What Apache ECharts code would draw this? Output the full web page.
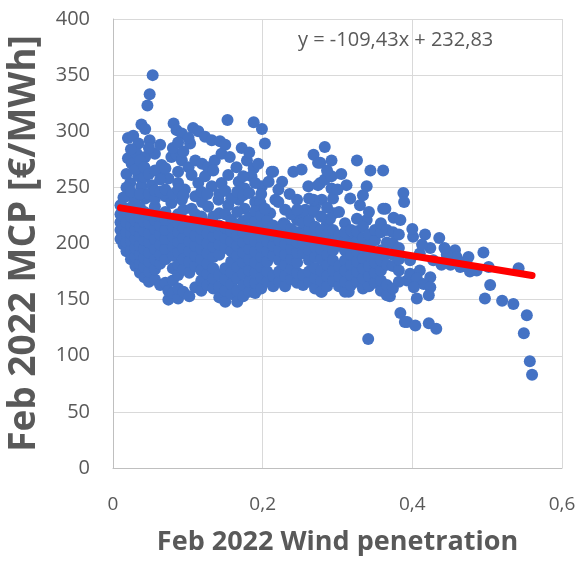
<!DOCTYPE html>
<html><head><meta charset="utf-8">
<script src="https://cdn.jsdelivr.net/npm/echarts@6/dist/echarts.min.js"></script>
<style>html,body{margin:0;padding:0;background:#fff}#c{width:579px;height:562px}</style>
</head><body><div id="c"></div>
<script>
// Axis ticks
const xTicks = [0, 0.2, 0.4, 0.6];
const yTicks = [0, 50, 100, 150, 200, 250, 300, 350, 400];
// Trendline (from the displayed equation)
const trendSlope = -109.43;
const trendIntercept = 232.83;
const equationText = 'y = -109,43x + 232,83';

// Points [wind penetration, MCP €/MWh], grouped by wind band
const windBelow010 = [
  [0.053,350],[0.049,333],[0.046,323],[0.038,306],[0.043,302],[0.020,294],[0.027,296],[0.034,289],[0.049,292],[0.081,307],[0.085,301],[0.092,298],
  [0.020,276],[0.025,271],[0.032,280],[0.043,277],[0.056,280],[0.065,270],[0.078,277],[0.085,279],[0.092,274],
  [0.023,254],[0.034,260],[0.038,251],[0.052,252],[0.067,263],[0.074,258],[0.087,254],[0.096,248],
  [0.018,242],[0.029,239],[0.043,240],[0.056,233],[0.070,242],[0.078,236],[0.092,239],
  [0.010,204],[0.010,212],[0.010,219],[0.010,226],[0.010,234],
  [0.014,199],[0.014,207],[0.014,216],[0.014,224],[0.014,232],[0.014,241],
  [0.018,193],[0.018,201],[0.018,210],[0.018,219],[0.018,228],[0.018,250],[0.018,262],
  [0.024,186],[0.024,194],[0.024,202],[0.024,209],[0.024,216],[0.024,224],[0.024,232],[0.024,246],[0.024,284],
  [0.030,180],[0.030,188],[0.030,196],[0.030,204],[0.030,212],[0.030,220],[0.030,229],[0.030,266],
  [0.036,174],[0.036,182],[0.036,190],[0.036,198],[0.036,207],[0.036,215],[0.036,223],[0.036,232],[0.036,244],[0.036,274],
  [0.042,170],[0.042,179],[0.042,187],[0.042,195],[0.042,203],[0.042,211],[0.042,219],[0.042,228],[0.042,259],[0.042,268],
  [0.048,166],[0.048,175],[0.048,184],[0.048,192],[0.048,201],[0.048,209],[0.048,218],[0.048,226],[0.048,244],[0.048,262],[0.048,285],
  [0.056,168],[0.056,177],[0.056,186],[0.056,195],[0.056,204],[0.056,213],[0.056,221],[0.056,240],[0.056,247],[0.056,265],
  [0.063,163],[0.063,182],[0.063,190],[0.063,199],[0.063,208],[0.063,216],[0.063,225],[0.063,246],[0.063,257],[0.063,288],
  [0.070,165],[0.070,186],[0.070,195],[0.070,204],[0.070,212],[0.070,221],[0.070,228],[0.070,248],[0.070,267],
  [0.074,150],[0.074,158],
  [0.080,156],[0.080,167],[0.080,178],[0.080,189],[0.080,197],[0.080,206],[0.080,214],[0.080,222],[0.080,244],[0.080,285],
  [0.087,151],[0.087,160],[0.087,172],[0.087,181],[0.087,192],[0.087,201],[0.087,210],[0.087,218],[0.087,226],[0.087,248],[0.087,264],[0.087,290],
  [0.094,157],[0.094,177],[0.094,186],[0.094,196],[0.094,205],[0.094,214],[0.094,230],[0.094,243],[0.094,282]
];
const wind010to020 = [
  [0.107,303],[0.114,300],[0.123,295],[0.132,292],[0.143,291],[0.150,288],[0.153,310],[0.188,308],[0.199,302],[0.172,285],[0.103,289],[0.101,294],
  [0.101,268],[0.110,274],[0.119,271],[0.127,268],[0.136,274],[0.145,280],[0.156,277],[0.165,268],[0.179,274],[0.188,267],[0.194,271],
  [0.105,261],[0.114,254],[0.123,260],[0.132,251],[0.145,254],[0.154,261],[0.168,255],[0.176,249],[0.185,260],[0.199,251],
  [0.105,231],[0.119,237],[0.127,233],[0.141,239],[0.154,234],[0.168,239],[0.176,231],[0.190,237],[0.197,236],
  [0.102,153],[0.102,174],[0.102,184],[0.102,193],[0.102,202],[0.102,211],[0.102,219],
  [0.110,161],[0.110,180],[0.110,189],[0.110,198],[0.110,207],[0.110,216],[0.110,226],[0.110,242],
  [0.118,158],[0.118,167],[0.118,176],[0.118,186],[0.118,195],[0.118,204],[0.118,213],[0.118,224],[0.118,246],
  [0.126,163],[0.126,173],[0.126,182],[0.126,191],[0.126,200],[0.126,209],[0.126,218],[0.126,244],
  [0.134,160],[0.134,169],[0.134,178],[0.134,188],[0.134,197],[0.134,206],[0.134,215],[0.134,224],[0.134,265],
  [0.142,152],[0.142,162],[0.142,172],[0.142,190],[0.142,199],[0.142,208],[0.142,216],[0.142,227],[0.142,244],
  [0.150,148],[0.150,158],[0.150,168],[0.150,178],[0.150,196],[0.150,205],[0.150,214],[0.150,226],[0.150,247],
  [0.158,155],[0.158,164],[0.158,174],[0.158,184],[0.158,193],[0.158,202],[0.158,211],[0.158,221],[0.158,240],
  [0.166,148],[0.166,158],[0.166,169],[0.166,179],[0.166,189],[0.166,198],[0.166,207],[0.166,217],[0.166,228],[0.166,246],
  [0.174,153],[0.174,163],[0.174,173],[0.174,183],[0.174,192],[0.174,201],[0.174,210],[0.174,220],[0.174,243],[0.174,260],
  [0.182,157],[0.182,166],[0.182,176],[0.182,186],[0.182,195],[0.182,204],[0.182,213],[0.182,223],[0.182,245],[0.182,281],
  [0.190,156],[0.190,165],[0.190,174],[0.190,183],[0.190,193],[0.190,202],[0.190,211],[0.190,220],[0.190,229],[0.190,254],
  [0.198,160],[0.198,170],[0.198,179],[0.198,188],[0.198,197],[0.198,206],[0.198,215],[0.198,225],[0.198,244]
];
const wind020to030 = [
  [0.203,289],[0.212,264],[0.241,264],[0.252,266],[0.268,279],[0.274,272],[0.283,286],[0.292,274],[0.277,272],[0.214,264],
  [0.226,255],[0.277,254],[0.292,249],[0.208,255],[0.221,248],[0.246,239],[0.261,251],[0.274,252],[0.283,257],[0.292,260],
  [0.217,239],[0.230,230],[0.257,230],[0.270,233],[0.279,239],[0.268,239],[0.221,237],[0.210,227],[0.268,228],[0.295,227],
  [0.246,221],[0.228,218],[0.286,218],[0.238,226],[0.262,240],[0.254,226],[0.203,231],[0.290,222],[0.236,244],[0.279,157],
  [0.206,166],[0.206,175],[0.206,184],[0.206,193],[0.206,202],[0.206,211],[0.206,220],
  [0.214,162],[0.214,171],[0.214,189],[0.214,198],[0.214,207],[0.214,216],
  [0.222,166],[0.222,175],[0.222,185],[0.222,194],[0.222,203],[0.222,212],
  [0.230,162],[0.230,171],[0.230,181],[0.230,190],[0.230,199],[0.230,208],[0.230,217],
  [0.238,168],[0.238,177],[0.238,186],[0.238,195],[0.238,204],[0.238,213],
  [0.246,165],[0.246,174],[0.246,183],[0.246,192],[0.246,201],[0.246,210],[0.246,230],
  [0.254,163],[0.254,172],[0.254,191],[0.254,200],[0.254,209],[0.254,218],
  [0.262,166],[0.262,175],[0.262,185],[0.262,194],[0.262,203],[0.262,212],[0.262,220],
  [0.270,160],[0.270,169],[0.270,178],[0.270,188],[0.270,197],[0.270,206],[0.270,215],
  [0.278,157],[0.278,167],[0.278,176],[0.278,186],[0.278,195],[0.278,204],[0.278,212],[0.278,224],
  [0.286,162],[0.286,171],[0.286,181],[0.286,190],[0.286,199],[0.286,208],[0.286,232],[0.286,265],
  [0.294,167],[0.294,176],[0.294,185],[0.294,194],[0.294,203],[0.294,212],[0.294,240]
];
const wind030to040 = [
  [0.326,274],[0.344,265],[0.361,265],[0.339,251],[0.312,252],[0.388,245],[0.389,237],[0.364,231],[0.375,223],[0.317,240],
  [0.330,234],[0.361,231],[0.310,218],[0.339,221],[0.321,203],[0.305,262],[0.300,248],[0.384,221],
  [0.341,115],[0.370,153],[0.384,138],[0.390,130],[0.315,157],[0.397,185],[0.393,167],[0.397,173],[0.393,130],
  [0.302,162],[0.302,171],[0.302,180],[0.302,198],[0.302,207],[0.302,228],
  [0.310,157],[0.310,166],[0.310,176],[0.310,185],[0.310,194],[0.310,203],[0.310,210],
  [0.318,163],[0.318,172],[0.318,181],[0.318,190],[0.318,199],[0.318,212],
  [0.326,166],[0.326,175],[0.326,184],[0.326,193],[0.326,202],[0.326,211],[0.326,222],
  [0.334,160],[0.334,169],[0.334,178],[0.334,187],[0.334,196],[0.334,205],[0.334,215],[0.334,243],
  [0.342,162],[0.342,171],[0.342,180],[0.342,189],[0.342,198],[0.342,208],[0.342,228],
  [0.350,165],[0.350,174],[0.350,183],[0.350,192],[0.350,203],[0.350,212],
  [0.358,158],[0.358,167],[0.358,176],[0.358,185],[0.358,194],[0.358,210],[0.358,218],
  [0.366,154],[0.366,163],[0.366,181],[0.366,191],[0.366,201],[0.366,212],
  [0.374,160],[0.374,180],[0.374,190],[0.374,200],[0.374,210],
  [0.382,166],[0.382,176],[0.382,186],[0.382,196],[0.382,208]
];
const windAbove040 = [
  [0.401,206],[0.417,208],[0.436,205],[0.424,196],[0.410,191],[0.428,185],[0.439,181],[0.410,176],[0.424,170],[0.406,169],
  [0.415,164],[0.402,161],[0.424,161],[0.406,151],[0.422,154],[0.404,127],[0.422,129],[0.432,124],
  [0.457,194],[0.459,188],[0.475,188],[0.495,192],[0.451,181],[0.464,179],[0.477,175],[0.486,176],[0.502,179],[0.504,163],
  [0.497,151],[0.520,149],[0.535,146],[0.542,178],[0.553,136],[0.549,120],[0.557,95],[0.560,83],
  [0.446,190],[0.468,183],[0.413,199],[0.400,213],[0.443,196]
];

const points = [].concat(windBelow010, wind010to020, wind020to030, wind030to040, windAbove040);
const xs = points.map(p => p[0]);
const xMin = Math.min.apply(null, xs), xMax = Math.max.apply(null, xs);
const trend = [[xMin, trendIntercept + trendSlope * xMin], [xMax, trendIntercept + trendSlope * xMax]];

const grey = '#595959';
const font = 'Open Sans';
const fmtX = v => (v === 0 ? '0' : v.toFixed(1).replace('.', ','));

const chart = echarts.init(document.getElementById('c'), null, {renderer: 'canvas'});
chart.setOption({
  animation: false,
  backgroundColor: '#ffffff',
  grid: {left: 113, right: 17, top: 19, bottom: 94, containLabel: false, outerBoundsMode: 'none'},
  xAxis: {
    type: 'value', min: xTicks[0], max: xTicks[xTicks.length - 1], interval: xTicks[1] - xTicks[0],
    axisLine: {show: true, lineStyle: {color: '#BFBFBF', width: 1}},
    axisTick: {show: false},
    splitLine: {show: true, lineStyle: {color: '#D9D9D9', width: 1}},
    axisLabel: {formatter: fmtX, color: grey, fontFamily: font, fontSize: 19, margin: 27},
    name: 'Feb 2022 Wind penetration', nameLocation: 'middle', nameGap: 61,
    nameTextStyle: {color: grey, fontFamily: font, fontWeight: 'bold', fontSize: 27}
  },
  yAxis: {
    type: 'value', min: yTicks[0], max: yTicks[yTicks.length - 1], interval: yTicks[1] - yTicks[0],
    axisLine: {show: true, lineStyle: {color: '#BFBFBF', width: 1}},
    axisTick: {show: false},
    splitLine: {show: true, lineStyle: {color: '#D9D9D9', width: 1}},
    axisLabel: {color: grey, fontFamily: font, fontSize: 20, margin: 23},
    name: 'Feb 2022 MCP [€/MWh]', nameLocation: 'middle', nameGap: 70, nameRotate: 90,
    nameTextStyle: {color: grey, fontFamily: font, fontWeight: 'bold', fontSize: 37}
  },
  graphic: [{
    type: 'text', left: 298, top: 30,
    style: {text: equationText, fill: grey, font: '20px "Open Sans"'}
  }],
  series: [{
    type: 'scatter', data: points, symbol: 'circle', symbolSize: 12,
    itemStyle: {color: '#4472C4', opacity: 1}, z: 2
  }, {
    type: 'line', data: trend, symbol: 'none', z: 3,
    lineStyle: {color: '#FF0000', width: 7, cap: 'round'}
  }]
});
</script>
</body></html>
